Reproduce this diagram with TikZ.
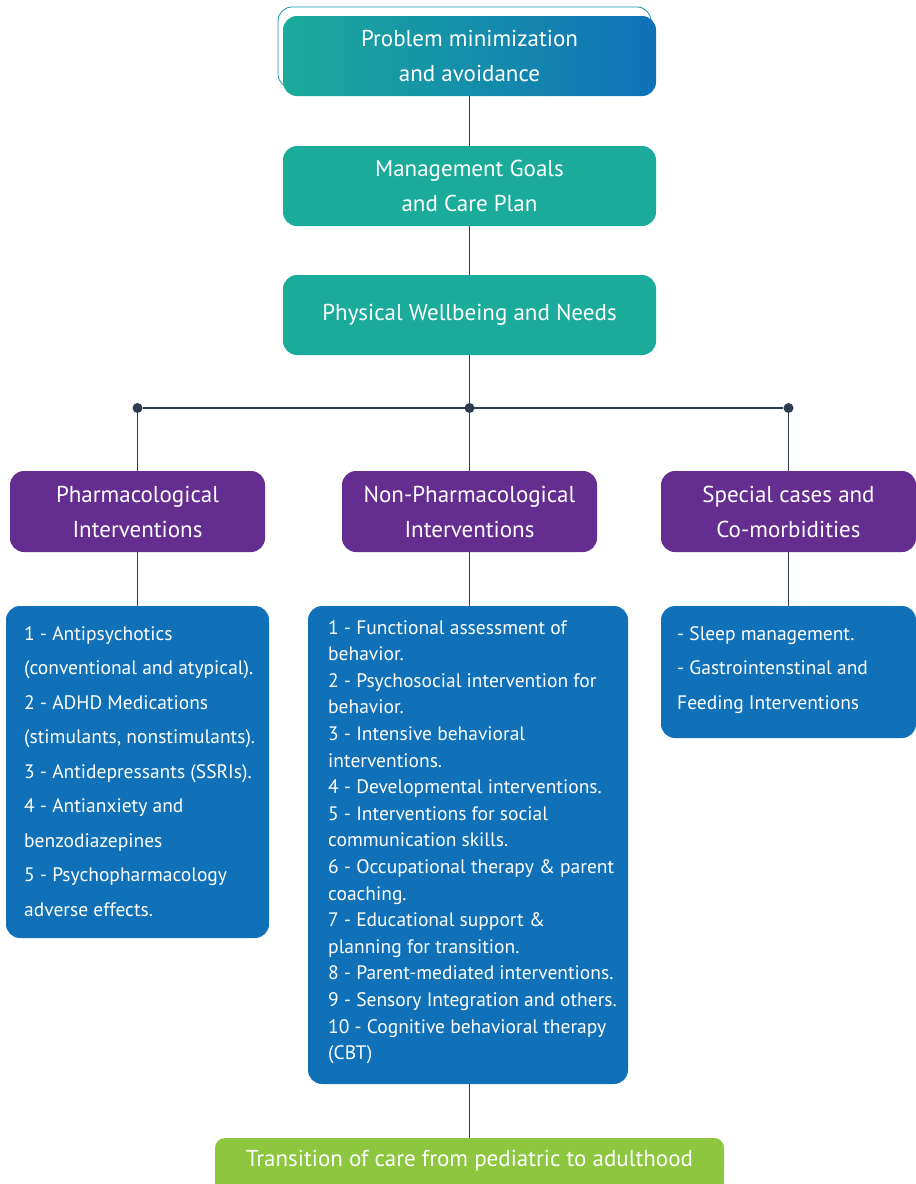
\documentclass[tikz,border=0pt]{standalone}
\usepackage{fontspec}
\setmainfont{PT Sans}
\definecolor{cteal}{HTML}{1AAB9B}
\definecolor{cblue}{HTML}{1071B9}
\definecolor{cpurple}{HTML}{662D91}
\definecolor{cgreen}{HTML}{8DC63F}
\definecolor{cline}{HTML}{2E3D4D}
\newcommand\hdrfont{\fontsize{23}{35}\selectfont}
\newcommand\listfont{\fontsize{19.5}{34.5}\selectfont}
\newcommand\listfontb{\fontsize{19.5}{26.6}\selectfont}
\begin{document}
\begin{tikzpicture}[x=1pt,y=-1pt,
  box/.style={rounded corners=14pt, inner sep=0pt, text=white, align=center, font=\hdrfont},
  hbox/.style={box, minimum width=373pt, minimum height=80pt},
  pbox/.style={box, fill=cpurple, minimum width=255pt, minimum height=81pt},
  lbox/.style={box, fill=cblue},
  ltext/.style={inner sep=0pt, text=white, align=left, anchor=north west},
  conn/.style={draw=cline, line width=1.4pt},
  dot/.style={circle, fill=cline, inner sep=0pt, minimum size=10pt}
]
\useasboundingbox (0,0) rectangle (916,1184);
% outline behind top box
\draw[cteal!60!cblue, line width=0.8pt, rounded corners=14pt] (278,7) rectangle (651,88);
\node[hbox, left color=cteal, right color=cblue] (prob) at (469.5,56) {Problem minimization\\and avoidance};
\node[hbox, fill=cteal] (mgmt) at (469.5,186) {Management Goals\\and Care Plan};
\node[hbox, fill=cteal] (phys) at (469.5,315) {Physical Wellbeing and Needs};

\node[dot] (dl) at (137.5,408) {};
\node[dot] (dm) at (469.5,408) {};
\node[dot] (dr) at (788.5,408) {};

\node[pbox] (pharm) at (137.5,511.5) {Pharmacological\\Interventions};
\node[pbox] (nonph) at (469.5,511.5) {Non-Pharmacological\\Interventions};
\node[pbox] (spec) at (788.5,511.5) {Special cases and\\Co-morbidities};

\node[lbox, minimum width=263pt, minimum height=332pt] (lpharm) at (137.5,772) {};
\node[lbox, minimum width=320pt, minimum height=478pt] (lnon) at (468,845) {};
\node[lbox, minimum width=255pt, minimum height=132pt] (lspec) at (788.5,672) {};

\fill[cgreen] (215,1160) rectangle (724,1184);
\node[box, fill=cgreen, rounded corners=10pt, minimum width=509pt, minimum height=46pt] (trans) at (469.5,1161) {Transition of care from pediatric to adulthood};

\node[ltext, font=\listfont] (tpharm) at (24,626) {1 - Antipsychotics\\(conventional and atypical).\\2 - ADHD Medications\\(stimulants, nonstimulants).\\3 - Antidepressants (SSRIs).\\4 - Antianxiety and\\benzodiazepines\\5 - Psychopharmacology\\adverse effects.};
\node[ltext, font=\listfontb] (tnon) at (328,620) {1 - Functional assessment of\\behavior.\\2 - Psychosocial intervention for\\behavior.\\3 - Intensive behavioral\\interventions.\\4 - Developmental interventions.\\5 - Interventions for social\\communication skills.\\6 - Occupational therapy \& parent\\coaching.\\7 - Educational support \&\\planning for transition.\\8 - Parent-mediated interventions.\\9 - Sensory Integration and others.\\10 - Cognitive behavioral therapy\\(CBT)};
\node[ltext, font=\listfont] (tspec) at (677,626) {- Sleep management.\\- Gastrointenstinal and\\Feeding Interventions};

\draw[conn] (prob) -- (mgmt);
\draw[conn] (mgmt) -- (phys);
\draw[conn] (phys) -- (dm);
\draw[conn] (dl) -- (dr);
\draw[conn] (dl) -- (pharm);
\draw[conn] (dm) -- (nonph);
\draw[conn] (dr) -- (spec);
\draw[conn] (pharm) -- (lpharm.north -| pharm);
\draw[conn] (nonph) -- (lnon.north -| nonph);
\draw[conn] (spec) -- (lspec.north -| spec);
\draw[conn] (lnon.south -| nonph) -- (trans);
\end{tikzpicture}
\end{document}
